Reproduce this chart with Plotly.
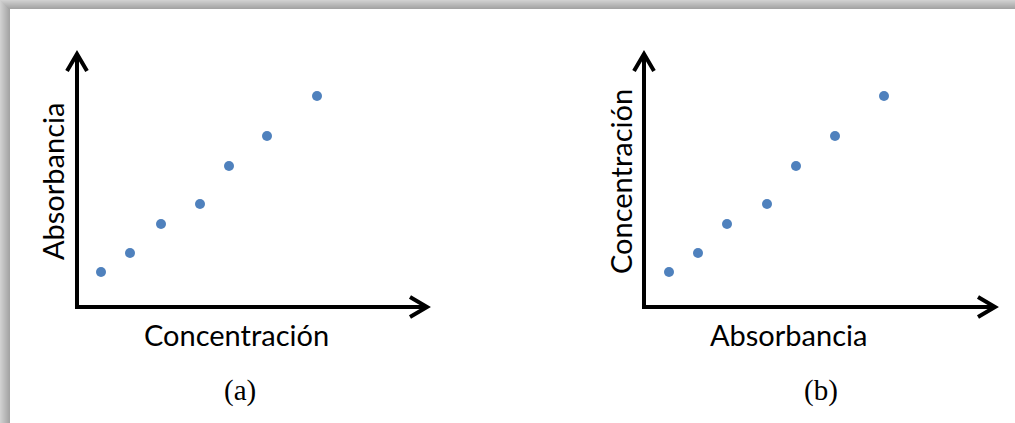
import plotly.graph_objects as go

# Schematic calibration plots: (a) absorbance vs concentration, (b) the inverse
conc_a = [2.4, 5.3, 8.4, 12.3, 15.2, 19.0, 24.0]
abs_a = [0.35, 0.54, 0.83, 1.03, 1.41, 1.71, 2.11]

abs_b = [0.25, 0.54, 0.83, 1.23, 1.52, 1.91, 2.40]
conc_b = [3.5, 5.4, 8.3, 10.3, 14.1, 17.1, 21.1]

panel_labels = ["(a)", "(b)"]
x_titles = ["Concentración", "Absorbancia"]
y_titles = ["Absorbancia", "Concentración"]

W, H = 1015, 423
DOT = "#4f81bd"
SANS = "Lato, Carlito, 'Open Sans', sans-serif"
SERIF = "'Liberation Serif', 'DejaVu Serif', serif"


def px(x):
    return x / W


def py(y):
    return 1 - y / H


def path(points):
    return "M " + " L ".join(f"{px(x):.5f},{py(y):.5f}" for x, y in points)


fig = go.Figure()

fig.add_trace(go.Scatter(x=conc_a, y=abs_a, mode="markers", xaxis="x", yaxis="y",
                         marker=dict(size=10, color=DOT, line=dict(width=0)),
                         hoverinfo="skip"))
fig.add_trace(go.Scatter(x=abs_b, y=conc_b, mode="markers", xaxis="x2", yaxis="y2",
                         marker=dict(size=10, color=DOT, line=dict(width=0)),
                         hoverinfo="skip"))

hidden = dict(showgrid=False, zeroline=False, showline=False, showticklabels=False,
              ticks="", fixedrange=True)

fig.update_layout(
    width=W, height=H, margin=dict(l=0, r=0, t=0, b=0),
    paper_bgcolor="white", plot_bgcolor="rgba(0,0,0,0)", showlegend=False,
    xaxis=dict(domain=[px(60), px(440)], range=[-1.7, 36.3], **hidden),
    yaxis=dict(domain=[py(325), py(40)], range=[-0.18, 2.67], **hidden),
    xaxis2=dict(domain=[px(627), px(1007)], range=[-0.17, 3.63], anchor="y2", **hidden),
    yaxis2=dict(domain=[py(325), py(40)], range=[-1.8, 26.7], anchor="x2", **hidden),
)

shapes = []

# soft grey frame along the top and left edges
for i in range(10):
    g = int(0xd0 - (0xd0 - 0xa4) * i / 9)
    col = f"rgb({g},{g},{g})"
    shapes.append(dict(type="rect", xref="paper", yref="paper",
                       x0=px(i), x1=px(i + 1), y0=0, y1=1,
                       fillcolor=col, line=dict(width=0), layer="below"))
for i in range(9):
    g = int(0xd0 - (0xd0 - 0xa4) * i / 8)
    col = f"rgb({g},{g},{g})"
    shapes.append(dict(type="rect", xref="paper", yref="paper",
                       x0=px(i), x1=1, y0=py(i + 1), y1=py(i),
                       fillcolor=col, line=dict(width=0), layer="below"))

# arrowed axes for both panels
for ox, tipx in [(77, 428), (644, 996)]:
    oy, tipy = 307, 53
    axis_line = dict(color="black", width=4)
    shapes.append(dict(type="path", xref="paper", yref="paper",
                       path=path([(ox, tipy + 1), (ox, oy)]), line=axis_line))
    shapes.append(dict(type="path", xref="paper", yref="paper",
                       path=path([(ox - 2, oy), (tipx - 1, oy)]), line=axis_line))
    shapes.append(dict(type="path", xref="paper", yref="paper",
                       path=path([(ox - 10, tipy + 18), (ox, tipy + 1), (ox + 10, tipy + 18)]),
                       line=axis_line))
    shapes.append(dict(type="path", xref="paper", yref="paper",
                       path=path([(tipx - 18, oy - 10), (tipx - 1, oy), (tipx - 18, oy + 10)]),
                       line=axis_line))

fig.update_layout(shapes=shapes)

annotations = []
for i, (cx, ylab_x) in enumerate([(236, 53), (788, 621)]):
    annotations.append(dict(text=x_titles[i], xref="paper", yref="paper",
                            x=px(cx), y=py(334), xanchor="center", yanchor="middle",
                            showarrow=False, font=dict(family=SANS, size=29, color="black")))
    annotations.append(dict(text=y_titles[i], xref="paper", yref="paper",
                            x=px(ylab_x), y=py(182), xanchor="center", yanchor="middle",
                            textangle=-90, showarrow=False,
                            font=dict(family=SANS, size=29, color="black")))
for lab, cx in zip(panel_labels, [240, 821]):
    annotations.append(dict(text=lab, xref="paper", yref="paper",
                            x=px(cx), y=py(390), xanchor="center", yanchor="middle",
                            showarrow=False, font=dict(family=SERIF, size=29, color="black")))
fig.update_layout(annotations=annotations)

fig.write_html("out.html", config=dict(displayModeBar=False))
